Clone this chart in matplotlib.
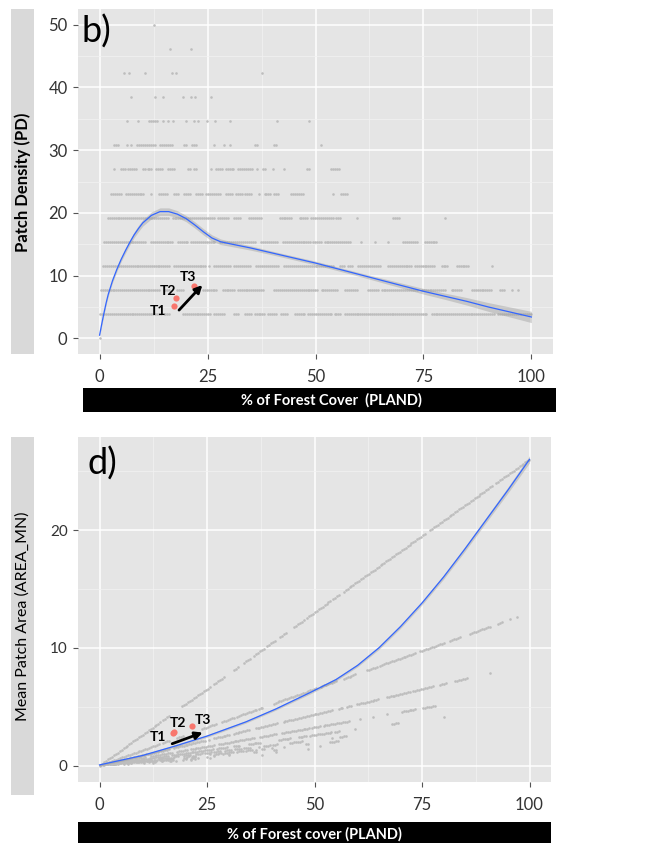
"""
Panel b) Patch Density y panel d) Mean Patch Area frente a % de cobertura forestal
"""

import numpy as np
import matplotlib.pyplot as plt
from matplotlib.patches import Rectangle
from matplotlib.ticker import MultipleLocator

plt.rcParams['font.family'] = ['Lato', 'DejaVu Sans']

# ── Datos ────────────────────────────────────────────────────────────────────
# Paisaje de 26 ha: PD = n / 26 * 100 ; AREA_MN = PLAND * 0.26 / n
LANDSCAPE_HA = 26.0

runs_n01 = [(0.2, 14.2), (14.8, 16.2), (19.3, 25.8), (26.6, 28.9), (31.2, 32.4), (33.6, 35.1),
            (35.9, 38.2), (39.0, 40.9), (42.0, 43.6), (45.2, 47.5), (48.3, 53.7), (54.4, 56.0),
            (56.8, 76.1), (76.9, 91.6), (92.3, 100.0)]
runs_n02 = [(0.3, 13.8), (14.8, 16.5), (18.0, 19.5), (23.9, 27.4), (28.5, 31.2), (32.0, 36.7),
            (37.0, 38.2), (40.5, 50.6), (51.4, 55.2), (56.8, 59.5), (62.2, 64.5), (65.3, 73.8),
            (74.6, 80.0), (81.5, 83.8), (86.2, 90.8), (92.7, 93.9), (95.4, 95.4), (97.0, 97.0)]
runs_n03 = [(0.9, 13.5), (13.8, 16.2), (17.3, 24.7), (25.4, 25.4), (26.6, 30.5), (31.2, 35.1),
            (36.3, 41.3), (42.8, 53.7), (54.0, 54.0), (55.6, 56.8), (57.5, 58.7), (59.9, 64.9),
            (66.8, 72.2), (73.0, 77.6), (79.2, 80.7), (82.7, 85.4), (90.8, 90.8)]
runs_n04 = [(1.1, 10.8), (11.9, 16.9), (18.1, 20.4), (21.2, 26.6), (27.8, 36.3), (37.4, 41.3),
            (42.5, 49.0), (49.4, 51.4), (52.1, 58.3), (60.6, 60.6), (63.7, 63.7), (66.8, 66.8),
            (70.3, 73.8), (75.3, 78.0)]
runs_n05 = [(1.9, 16.2), (16.9, 24.7), (25.1, 26.6), (27.4, 29.7), (31.2, 32.8), (34.7, 37.8),
            (41.7, 44.8), (46.3, 48.3), (49.0, 54.1), (54.8, 56.0), (59.5, 59.5), (68.0, 69.5),
            (80.0, 80.0)]
runs_n06 = [(2.6, 4.9), (6.1, 10.4), (11.8, 11.8), (13.8, 15.8), (17.3, 18.5), (19.6, 21.2),
            (22.4, 24.0), (24.6, 26.0), (26.6, 28.2), (29.3, 31.0), (31.6, 33.0), (33.6, 35.1),
            (37.0, 37.0), (38.2, 39.6), (40.4, 41.7), (44.4, 47.5), (54.1, 54.1), (56.0, 57.5)]
runs_n07 = [(3.4, 3.4), (4.9, 6.0), (6.6, 8.4), (10.0, 10.8), (11.1, 12.4), (13.0, 14.6),
            (15.8, 17.5), (20.4, 21.2), (21.8, 22.6), (25.7, 25.7), (27.0, 28.6), (29.2, 31.1),
            (32.0, 33.4), (34.0, 35.5), (36.4, 36.4), (37.8, 38.6), (40.1, 40.1), (42.8, 42.8),
            (48.1, 48.6), (53.7, 55.6)]
runs_n08 = [(3.4, 4.6), (6.3, 6.3), (7.3, 7.3), (8.7, 12.8), (14.1, 16.9), (19.6, 20.4),
            (21.4, 22.7), (26.6, 26.6), (28.8, 28.8), (30.1, 30.1), (35.9, 36.7), (40.5, 41.3),
            (51.2, 51.2)]
runs_n09 = [(6.3, 6.3), (9.0, 9.0), (11.4, 13.5), (14.6, 14.6), (15.9, 15.9), (17.1, 17.1),
            (20.0, 20.0), (21.8, 21.8), (22.9, 22.9), (24.9, 24.9), (26.7, 26.7), (30.2, 30.2),
            (41.1, 41.1), (48.4, 48.4)]
runs_n10 = [(7.3, 7.7), (12.8, 12.8), (14.6, 14.6), (19.4, 19.4), (21.2, 21.2), (22.2, 22.2),
            (25.7, 25.7)]
runs_n11 = [(5.6, 5.6), (6.7, 6.7), (10.4, 10.4), (16.7, 16.7), (17.7, 17.7), (37.7, 37.7)]
runs_n12 = [(16.3, 16.3), (21.2, 21.2)]
runs_n13 = [(12.5, 12.5)]
RUNS = [runs_n01, runs_n02, runs_n03, runs_n04, runs_n05, runs_n06, runs_n07,
        runs_n08, runs_n09, runs_n10, runs_n11, runs_n12, runs_n13]
RUN_STEP = 0.45   # resolución de PLAND dentro de un tramo continuo

# curvas suavizadas (loess)
pd_fit_x = [0, 0.5, 1, 1.5, 2, 3, 4, 5, 6, 7, 8, 9, 10, 12, 14, 16, 18, 20, 22, 24, 26, 28,
            30, 35, 40, 45, 50, 55, 60, 65, 70, 75, 80, 85, 90, 95, 100]
pd_fit_y = [0.5, 2.3, 4.0, 5.6, 7.0, 9.2, 11.0, 12.6, 14.0, 15.3, 16.5, 17.5, 18.4, 19.6,
            20.2, 20.2, 19.8, 19.1, 18.1, 17.0, 16.0, 15.4, 15.1, 14.4, 13.6, 12.8, 12.0,
            11.1, 10.2, 9.3, 8.4, 7.5, 6.7, 5.9, 5.0, 4.2, 3.4]
pd_fit_se = [0.3, 0.3, 0.3, 0.3, 0.3, 0.3, 0.35, 0.35, 0.4, 0.4, 0.45, 0.5, 0.5, 0.55, 0.6,
             0.6, 0.55, 0.5, 0.5, 0.5, 0.5, 0.45, 0.4, 0.35, 0.3, 0.3, 0.3, 0.3, 0.3, 0.35,
             0.4, 0.45, 0.5, 0.6, 0.7, 0.8, 0.9]

area_fit_x = [0, 10, 18, 25, 34, 41, 49, 55, 60, 65, 70, 75, 80, 85, 90, 95, 100]
area_fit_y = [0.05, 0.85, 1.7, 2.5, 3.7, 4.8, 6.2, 7.3, 8.5, 10.0, 11.8, 13.8, 16.0, 18.4,
              20.9, 23.4, 26.0]
area_fit_se = [0.1, 0.1, 0.1, 0.1, 0.1, 0.1, 0.12, 0.12, 0.12, 0.14, 0.15, 0.16, 0.18,
               0.2, 0.22, 0.25, 0.3]

# periodos T1-T3
t_labels = ['T1', 'T2', 'T3']
t_pland = [17.2, 17.6, 21.8]
t_pd = [5.1, 6.4, 8.3]
t_area_pland = [17.0, 17.4, 21.5]
t_area = [2.75, 2.85, 3.35]

# ── Estilo ───────────────────────────────────────────────────────────────────
BG = '#E5E5E5'
PT = '#BDBDBD'
BLUE = '#3366FF'
RED = '#F8766D'
TXT = '#333333'


def expand_runs():
    """Convierte los tramos observados en puntos (PLAND, n)."""
    xs, ns = [0.0], [0]
    for n, runs in enumerate(RUNS, start=1):
        for a, b in runs:
            pts = np.arange(a, b + 1e-9, RUN_STEP)
            xs.extend(pts)
            ns.extend([n] * len(pts))
    return np.array(xs), np.array(ns)


def style_axes(ax, ylim, ymajor, ylab_size):
    ax.set_facecolor(BG)
    for s in ax.spines.values():
        s.set_visible(False)
    ax.set_xlim(-5, 105)
    ax.set_ylim(*ylim)
    ax.xaxis.set_major_locator(MultipleLocator(25))
    ax.xaxis.set_minor_locator(MultipleLocator(12.5))
    ax.yaxis.set_major_locator(MultipleLocator(ymajor))
    ax.yaxis.set_minor_locator(MultipleLocator(ymajor / 2))
    ax.grid(True, which='major', color='white', lw=1.1)
    ax.grid(True, which='minor', color='#F2F2F2', lw=0.5)
    ax.set_axisbelow(True)
    ax.tick_params(which='major', length=3.5, width=0.8, color='#555555',
                   labelcolor=TXT)
    ax.tick_params(axis='x', labelsize=12, pad=7)
    ax.tick_params(axis='y', labelsize=ylab_size, pad=4)
    ax.tick_params(which='minor', length=0)


def draw_markers(ax, xs, ys, lx, ly, arrow):
    ax.scatter(xs, ys, s=20, color=RED, zorder=5, linewidths=0)
    for lab, x, y in zip(t_labels, lx, ly):
        ax.text(x, y, lab, ha='center', va='center', fontsize=10,
                fontweight='bold', color='black', zorder=6)
    ax.annotate('', xy=arrow[1], xytext=arrow[0],
                arrowprops=dict(arrowstyle='-|>', lw=2.0, color='black',
                                mutation_scale=11, shrinkA=0, shrinkB=0), zorder=6)


xs, ns = expand_runs()
pd_vals = ns / LANDSCAPE_HA * 100
area_vals = np.where(ns > 0, xs * LANDSCAPE_HA / 100 / np.maximum(ns, 1), 0.0)

fig = plt.figure(figsize=(6.49, 8.43), dpi=100)

# ── Panel b) ─────────────────────────────────────────────────────────────────
ax1 = fig.add_axes([78 / 649, 1 - 354 / 843, 475 / 649, 345 / 843])
style_axes(ax1, (-2.5, 52.5), 10, 12)
ax1.scatter(xs, pd_vals, s=3.5, color=PT, linewidths=0, zorder=2)
lo = np.array(pd_fit_y) - np.array(pd_fit_se)
hi = np.array(pd_fit_y) + np.array(pd_fit_se)
ax1.fill_between(pd_fit_x, lo, hi, color='#999999', alpha=0.4, lw=0, zorder=3)
ax1.plot(pd_fit_x, pd_fit_y, color=BLUE, lw=0.9, zorder=4)
draw_markers(ax1, t_pland, t_pd, [13.6, 15.9, 20.4], [4.4, 7.6, 9.7],
             ((18.4, 4.5), (23.8, 8.5)))
ax1.text(0.008, 0.985, 'b)', transform=ax1.transAxes, fontsize=26, va='top', ha='left')

# ── Panel d) ─────────────────────────────────────────────────────────────────
ax2 = fig.add_axes([78 / 649, 1 - 782 / 843, 473 / 649, 345 / 843])
style_axes(ax2, (-1.4, 27.9), 10, 11)
ax2.scatter(xs, area_vals, s=3.5, color=PT, linewidths=0, zorder=2)
lo = np.array(area_fit_y) - np.array(area_fit_se)
hi = np.array(area_fit_y) + np.array(area_fit_se)
ax2.fill_between(area_fit_x, lo, hi, color='#999999', alpha=0.4, lw=0, zorder=3)
ax2.plot(area_fit_x, area_fit_y, color=BLUE, lw=0.9, zorder=4)
draw_markers(ax2, t_area_pland, t_area, [13.5, 18.3, 24.1], [2.45, 3.6, 3.9],
             ((16.9, 1.85), (24.0, 2.8)))
ax2.text(0.02, 0.972, 'd)', transform=ax2.transAxes, fontsize=26, va='top', ha='left')

# ── Tiras de etiquetas (estilo facet) ────────────────────────────────────────
def strip(x0, y0, x1, y1, fc):
    fig.add_artist(Rectangle((x0 / 649, 1 - y1 / 843), (x1 - x0) / 649, (y1 - y0) / 843,
                             transform=fig.transFigure, fc=fc, ec='none'))

strip(11, 9, 34, 354, '#D9D9D9')
fig.text(22.5 / 649, 1 - 182 / 843, 'Patch Density (PD)', rotation=90, ha='center',
         va='center', fontsize=12, fontweight='bold', color='black')
strip(11, 437, 34, 795, '#D9D9D9')
fig.text(22.5 / 649, 1 - 616 / 843, 'Mean Patch Area (AREA_MN)', rotation=90, ha='center',
         va='center', fontsize=11.5, color='black')

strip(83, 388, 556, 412, 'black')
fig.text(331 / 649, 1 - 400 / 843, '% of Forest Cover  (PLAND)', ha='center', va='center',
         fontsize=10.5, fontweight='bold', color='white')
strip(78, 822, 551, 850, 'black')
fig.text(314 / 649, 1 - 834 / 843, '% of Forest cover (PLAND)', ha='center', va='center',
         fontsize=10.5, fontweight='bold', color='white')

fig.savefig('out.png', dpi=100)
